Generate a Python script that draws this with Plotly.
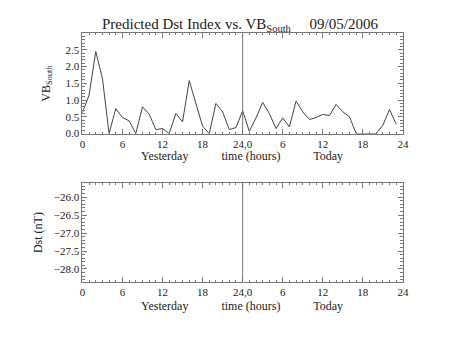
import plotly.graph_objects as go

hours = list(range(48))
vb_south = [0.62, 1.15, 2.45, 1.65, 0.0, 0.75, 0.48, 0.38, 0.0, 0.8,
            0.58, 0.12, 0.15, 0.0, 0.6, 0.35, 1.58, 0.9, 0.22, 0.0,
            0.9, 0.65, 0.12, 0.18, 0.68, 0.07, 0.47, 0.93, 0.6, 0.15,
            0.47, 0.2, 0.97, 0.65, 0.42, 0.48, 0.57, 0.54, 0.87, 0.65,
            0.5, 0.0, 0.0, 0.0, 0.0, 0.25, 0.72, 0.28]
dst_hours = []
dst = []
x_tickvals = [0, 6, 12, 18, 24, 30, 36, 42, 48]
x_ticktext = ["0", "6", "12", "18", "24,0", "6", "12", "18", "24"]

W, H = 453, 340
FONT = "Liberation Serif"
LC = "#777"

def px_x(p):
    return p / W

def px_y(p):
    return 1 - p / H

fig = go.Figure()
fig.add_trace(go.Scatter(x=hours, y=vb_south, mode="lines",
                         line=dict(color="#444", width=1), xaxis="x", yaxis="y",
                         showlegend=False))
fig.add_trace(go.Scatter(x=dst_hours, y=dst, mode="lines",
                         line=dict(color="#444", width=1), xaxis="x2", yaxis="y2",
                         showlegend=False))

xdom = [px_x(81), px_x(408)]
common_x = dict(range=[0, 48], tickvals=x_tickvals, ticktext=x_ticktext,
                ticks="inside", ticklen=5, tickcolor=LC, showline=True,
                linecolor=LC, linewidth=1, mirror="allticks", showgrid=False,
                zeroline=False, tickfont=dict(family=FONT, size=11, color="#222"),
                minor=dict(dtick=1, ticklen=2, ticks="inside", tickcolor=LC),
                domain=xdom)
common_y = dict(ticks="inside", ticklen=5, tickcolor=LC, showline=True,
                linecolor=LC, linewidth=1, mirror="allticks", showgrid=False,
                zeroline=False, tickfont=dict(family=FONT, size=11, color="#222"),
                minor=dict(dtick=0.1, ticklen=3, ticks="inside", tickcolor=LC))

def ann(text, x, y, size, angle=0):
    return dict(text=text, x=px_x(x), y=px_y(y), xref="paper", yref="paper",
                xanchor="center", yanchor="middle", showarrow=False,
                textangle=angle, font=dict(family=FONT, size=size, color="#222"))

fig.update_layout(
    width=W, height=H,
    margin=dict(l=0, r=0, t=0, b=0),
    paper_bgcolor="white", plot_bgcolor="white",
    xaxis=dict(**common_x, anchor="y"),
    yaxis=dict(**common_y, range=[0, 2.99], dtick=0.5, tickformat=".1f",
               domain=[px_y(136), px_y(34)], anchor="x"),
    xaxis2=dict(**common_x, anchor="y2"),
    yaxis2=dict(**common_y, range=[-28.36, -25.6], dtick=0.5, tick0=-28,
                tickformat=".1f", domain=[px_y(287), px_y(186)], anchor="x2"),
    shapes=[
        dict(type="line", xref="x", yref="y domain", x0=24, x1=24, y0=0, y1=1,
             line=dict(color=LC, width=1)),
        dict(type="line", xref="x2", yref="y2 domain", x0=24, x1=24, y0=0, y1=1,
             line=dict(color=LC, width=1)),
    ],
    annotations=[
        ann("Predicted Dst Index vs. VB<sub>South</sub>     09/05/2006", 242, 25, 15),
        ann("Yesterday           time (hours)           Today", 244, 159, 12),
        ann("Yesterday           time (hours)           Today", 244, 311, 12),
        ann("VB<sub>South</sub>", 44, 85, 12, -90),
        ann("Dst (nT)", 36, 237, 12, -90),
    ],
)

fig.write_html("out.html")
